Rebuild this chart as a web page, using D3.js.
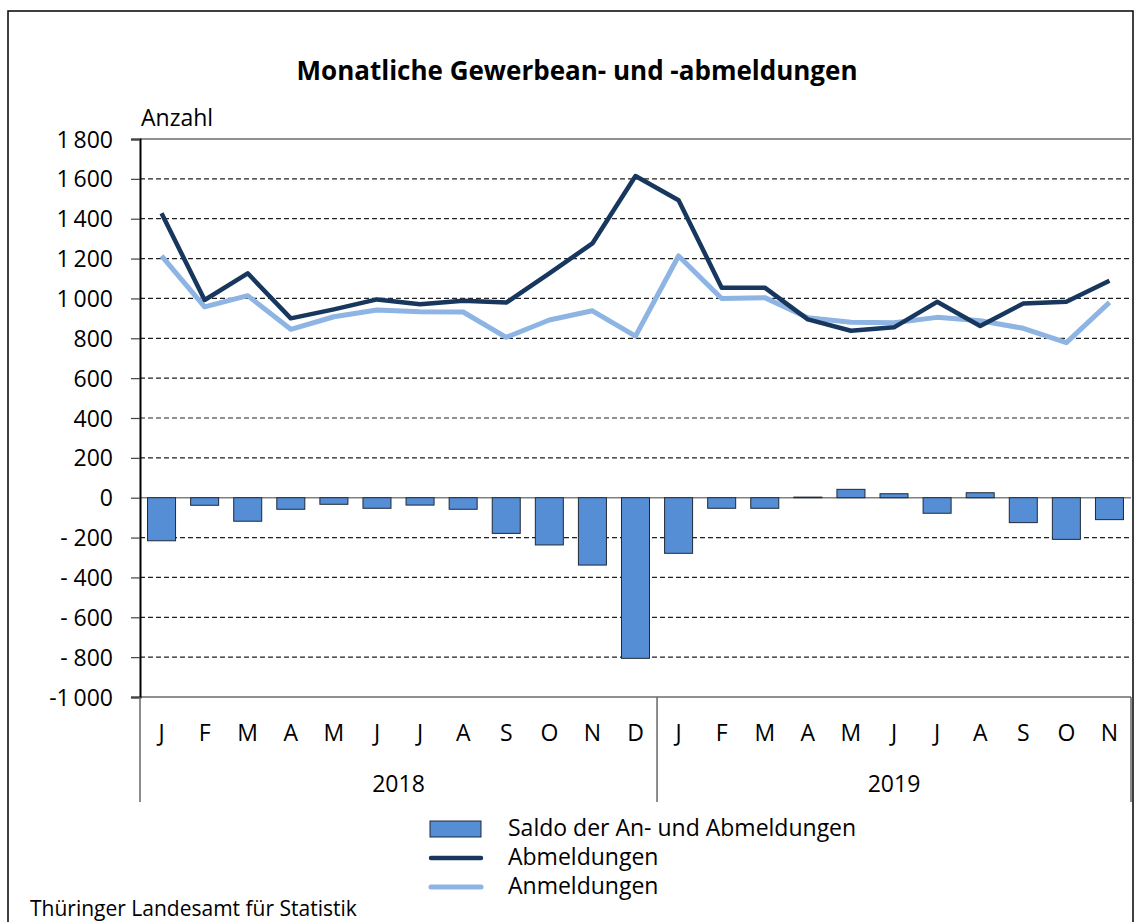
<!DOCTYPE html>
<html>
<head>
<meta charset="utf-8">
<script src="https://cdn.jsdelivr.net/npm/d3@7"></script>
<style>
  body { margin: 0; background: #fff; }
  svg text { font-family: "Open Sans", Lato, sans-serif; fill: #000; }
</style>
</head>
<body>
<div id="chart"></div>
<script>
const width = 1134;
const height = 922;
const margin = { top: 139, right: 3, bottom: 225, left: 140 };
const fontSize = "23px";

const months = ["J", "F", "M", "A", "M", "J", "J", "A", "S", "O", "N", "D",
                "J", "F", "M", "A", "M", "J", "J", "A", "S", "O", "N"];
const years = ["2018", "2019"];
const yearLengths = [12, 11];

const abmeldungen = [1427, 992, 1126, 900, 945, 995, 971, 988, 979, 1126, 1276, 1614,
                     1493, 1054, 1054, 895, 838, 855, 983, 862, 975, 983, 1089];
const anmeldungen = [1213, 958, 1014, 845, 908, 942, 933, 932, 805, 892, 938, 811,
                     1213, 1000, 1004, 903, 880, 878, 905, 888, 850, 778, 980];
const saldo = [-216, -38, -118, -58, -33, -53, -37, -58, -179, -237, -338, -806,
               -279, -53, -53, 3, 42, 20, -78, 25, -125, -209, -110];

const yTicks = [1800, 1600, 1400, 1200, 1000, 800, 600, 400, 200, 0, -200, -400, -600, -800, -1000];

const svg = d3.select("#chart").append("svg")
    .attr("width", width)
    .attr("height", height);

// outer frame
svg.append("rect")
    .attr("x", 8).attr("y", 11)
    .attr("width", 1125).attr("height", 920)
    .attr("fill", "none")
    .attr("stroke", "#000")
    .attr("stroke-width", 1.5);

svg.append("text")
    .attr("x", 577)
    .attr("y", 80)
    .attr("text-anchor", "middle")
    .style("font-size", "26px")
    .style("font-weight", "bold")
    .text("Monatliche Gewerbean- und -abmeldungen");

svg.append("text")
    .attr("x", 141)
    .attr("y", 126)
    .style("font-size", fontSize)
    .text("Anzahl");

const xScale = d3.scaleBand()
    .domain(d3.range(months.length))
    .range([margin.left, width - margin.right])
    .paddingInner(0.35)
    .paddingOuter(0.175);

const xPos = d3.scaleBand()
    .domain(d3.range(months.length))
    .range([margin.left, width - margin.right]);

const yScale = d3.scaleLinear()
    .domain([-1000, 1800])
    .range([697, 139]);

// grid
svg.append("g")
    .selectAll("line")
    .data(yTicks)
    .join("line")
    .attr("x1", margin.left)
    .attr("x2", width - margin.right)
    .attr("y1", d => yScale(d))
    .attr("y2", d => yScale(d))
    .attr("stroke", d => d === 0 ? "#808080" : "#222")
    .attr("stroke-width", d => d === 0 ? 1.5 : 1.2)
    .attr("stroke-dasharray", d => (d === 1800 || d === 0 || d === -1000) ? null : "5,3");

// y axis
const yAxis = d3.axisLeft(yScale)
    .tickValues(yTicks)
    .tickSize(9)
    .tickPadding(18)
    .tickFormat(d => {
        const s = d3.format(",")(Math.abs(d)).replace(",", "\u2009");
        if (d < 0) return (Math.abs(d) >= 1000 ? "-" : "- ") + s;
        return s;
    });

svg.append("g")
    .attr("transform", `translate(${margin.left},0)`)
    .call(yAxis)
    .call(g => g.select(".domain").attr("stroke", "#000").attr("stroke-width", 2))
    .call(g => g.selectAll(".tick line").attr("stroke", "#444").attr("stroke-width", 1.2))
    .call(g => g.selectAll(".tick text").style("font-size", fontSize).attr("dy", "0.35em"));

// bars
svg.append("g")
    .selectAll("rect")
    .data(saldo)
    .join("rect")
    .attr("x", (d, i) => xScale(i))
    .attr("width", xScale.bandwidth())
    .attr("y", d => yScale(Math.max(0, d)))
    .attr("height", d => Math.abs(yScale(d) - yScale(0)))
    .attr("fill", "#558ed5")
    .attr("stroke", "#1f2a38")
    .attr("stroke-width", 1);

// lines
const line = d3.line()
    .x((d, i) => xPos(i) + xPos.bandwidth() / 2)
    .y(d => yScale(d));

svg.append("path")
    .datum(anmeldungen)
    .attr("d", line)
    .attr("fill", "none")
    .attr("stroke", "#8db4e2")
    .attr("stroke-width", 5)
    .attr("stroke-linejoin", "round");

svg.append("path")
    .datum(abmeldungen)
    .attr("d", line)
    .attr("fill", "none")
    .attr("stroke", "#17375e")
    .attr("stroke-width", 4.5)
    .attr("stroke-linejoin", "round");

// category axis
svg.append("g")
    .selectAll("text")
    .data(months)
    .join("text")
    .attr("x", (d, i) => xPos(i) + xPos.bandwidth() / 2)
    .attr("y", 741)
    .attr("text-anchor", "middle")
    .style("font-size", fontSize)
    .text(d => d);

let start = 0;
const groups = years.map((y, k) => {
    const g = { year: y, start: start, end: start + yearLengths[k] };
    start += yearLengths[k];
    return g;
});

const sepX = [margin.left, ...groups.map(g => g.end === months.length ? width - margin.right : xPos(g.end))];
svg.append("g")
    .selectAll("line")
    .data(sepX)
    .join("line")
    .attr("x1", d => d).attr("x2", d => d)
    .attr("y1", 697).attr("y2", 802)
    .attr("stroke", "#666")
    .attr("stroke-width", 1.5);

svg.append("g")
    .selectAll("text")
    .data(groups)
    .join("text")
    .attr("x", d => (xPos(d.start) + (d.end === months.length ? width - margin.right : xPos(d.end))) / 2)
    .attr("y", 792)
    .attr("text-anchor", "middle")
    .style("font-size", fontSize)
    .text(d => d.year);

// legend
const legend = svg.append("g");
legend.append("rect")
    .attr("x", 430).attr("y", 821)
    .attr("width", 51).attr("height", 16)
    .attr("fill", "#558ed5")
    .attr("stroke", "#1f2a38")
    .attr("stroke-width", 1);
legend.append("line")
    .attr("x1", 431).attr("x2", 481)
    .attr("y1", 858).attr("y2", 858)
    .attr("stroke", "#17375e").attr("stroke-width", 4.5).attr("stroke-linecap", "round");
legend.append("line")
    .attr("x1", 431).attr("x2", 481)
    .attr("y1", 887).attr("y2", 887)
    .attr("stroke", "#8db4e2").attr("stroke-width", 5).attr("stroke-linecap", "round");

const legendTexts = ["Saldo der An- und Abmeldungen", "Abmeldungen", "Anmeldungen"];
legend.selectAll("text")
    .data(legendTexts)
    .join("text")
    .attr("x", 508)
    .attr("y", (d, i) => 836 + i * 29)
    .style("font-size", fontSize)
    .text(d => d);

svg.append("text")
    .attr("x", 30)
    .attr("y", 916)
    .style("font-size", "21px")
    .text("Thüringer Landesamt für Statistik");
</script>
</body>
</html>
